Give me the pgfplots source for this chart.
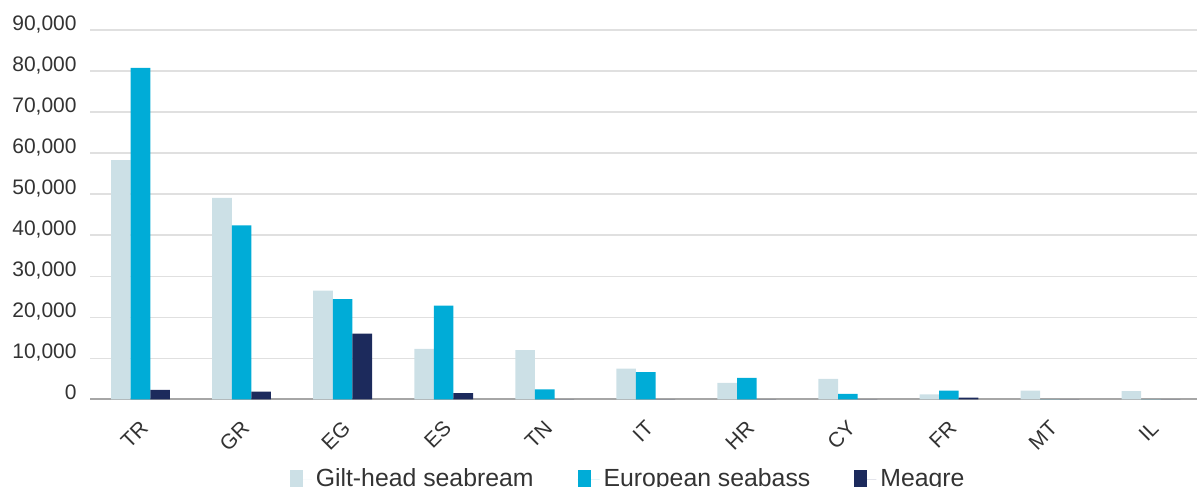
\documentclass[border=0pt]{standalone}
\usepackage{pgfplots}
\pgfplotsset{compat=1.18}
\usepackage{fontspec}
\setmainfont{Liberation Sans}
\definecolor{gilt}{HTML}{CCE0E6}
\definecolor{bass}{HTML}{00ACD7}
\definecolor{meag}{HTML}{1C2A5C}
\definecolor{txt}{HTML}{333333}
\begin{document}
\begin{tikzpicture}
\begin{axis}[
  at={(45bp,43.85bp)}, anchor=south west,
  scale only axis, width=553.5bp, height=184.65bp,
  ybar=0pt, bar width=9.8bp,
  xmin=-0.5, xmax=10.455, ymin=0, ymax=90000,
  xtick={0,...,10},
  xticklabels={TR,GR,EG,ES,TN,IT,HR,CY,FR,MT,IL},
  ytick={0,10000,...,90000},
  scaled y ticks=false,
  axis x line*=bottom, axis y line*=left,
  x axis line style={draw=black!35, line width=0.9bp, -},
  y axis line style={draw=none},
  major tick length=0pt,
  ymajorgrids, grid style={draw=black!12, line width=0.7bp},
  tick label style={font=\fontsize{10.5bp}{12bp}\selectfont, text=txt},
  /pgf/number format/assume math mode=true,
  yticklabel style={/pgf/number format/1000 sep={,}, anchor=base east, inner sep=0pt, xshift=-6.5bp},
  yticklabel={\pgfmathprintnumber{\tick}},
  xticklabel style={rotate=45, anchor=north east, inner sep=0pt, yshift=-6.5bp, xshift=-7.5bp},
  legend columns=3,
  legend style={draw=none, fill=none, at={(0.487,-0.216)}, anchor=center,
    font=\fontsize{12.4bp}{14bp}\selectfont, text=txt,
    /tikz/every even column/.append style={column sep=20bp}},
  legend image code/.code={\fill[#1] (0bp,-4.5bp) rectangle (6.5bp,4.5bp); \path (0bp,0bp) -- (11bp,0bp);},
  enlarge x limits=false,
]
\addplot[fill=gilt, draw=none] coordinates {(0,58300) (1,49100) (2,26500) (3,12300) (4,12000) (5,7500) (6,4000) (7,5000) (8,1200) (9,2100) (10,2000)};
\addplot[fill=bass, draw=none] coordinates {(0,80800) (1,42400) (2,24400) (3,22800) (4,2400) (5,6600) (6,5200) (7,1300) (8,2100) (9,0) (10,0)};
\addplot[fill=meag, draw=none] coordinates {(0,2300) (1,1900) (2,16000) (3,1500) (4,0) (5,0) (6,0) (7,0) (8,400) (9,0) (10,0)};
\legend{Gilt-head seabream, European seabass, Meagre}
\end{axis}
\pgfresetboundingbox
\path[use as bounding box] (0,0) rectangle (598.5bp,243.5bp);
\end{tikzpicture}
\end{document}
